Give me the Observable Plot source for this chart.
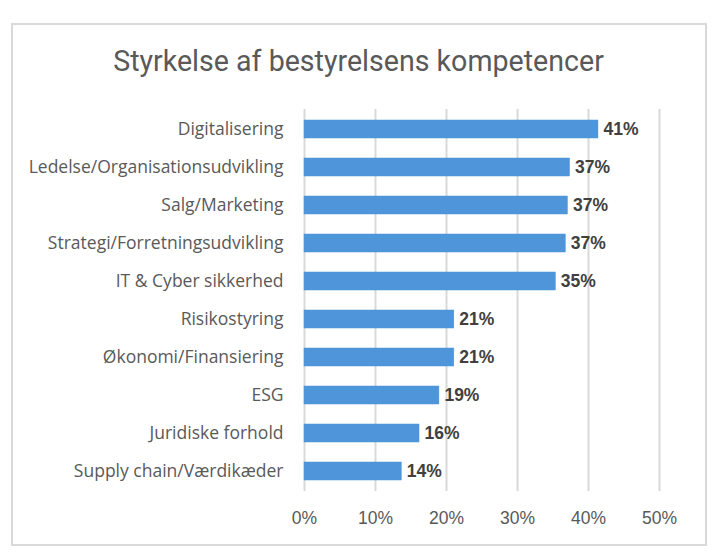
<!DOCTYPE html>
<html>
<head>
<meta charset="utf-8">
<script src="https://cdn.jsdelivr.net/npm/d3@7"></script>
<script src="https://cdn.jsdelivr.net/npm/@observablehq/plot@0.6"></script>
<style>
  html, body { margin: 0; padding: 0; background: #fff; }
  body { width: 722px; height: 560px; position: relative; overflow: hidden; font-family: Roboto, "Open Sans", sans-serif; }
  #frame { position: absolute; left: 11px; top: 23px; width: 692px; height: 519px; border: 2.5px solid #d9d9d9; pointer-events: none; }
  #title { position: absolute; left: 12px; width: 693px; top: 43px; text-align: center; font-size: 28.6px; color: #595959; font-weight: 400; font-family: Roboto, sans-serif; line-height: 36px; white-space: nowrap; }
  #chart { position: absolute; left: 0; top: 0; }
</style>
</head>
<body>
<div id="chart"></div>
<div id="title">Styrkelse af bestyrelsens kompetencer</div>
<div id="frame"></div>
<script>
const categories = [
  "Digitalisering",
  "Ledelse/Organisationsudvikling",
  "Salg/Marketing",
  "Strategi/Forretningsudvikling",
  "IT & Cyber sikkerhed",
  "Risikostyring",
  "Økonomi/Finansiering",
  "ESG",
  "Juridiske forhold",
  "Supply chain/Værdikæder"
];
const values = [41.4, 37.4, 37.1, 36.8, 35.4, 21.1, 21.1, 19.0, 16.2, 13.7];
const xTicks = [0, 10, 20, 30, 40, 50];

const data = categories.map((c, i) => ({category: c, value: values[i]}));

const chart = Plot.plot({
  width: 722,
  height: 560,
  marginLeft: 304,
  marginRight: 63,
  marginTop: 109,
  marginBottom: 69,
  style: {fontFamily: "Roboto, sans-serif", fontSize: "15px", background: "transparent"},
  x: {domain: [0, 50], ticks: xTicks, tickFormat: d => d + "%", label: null},
  y: {domain: categories, paddingInner: 0.52, paddingOuter: 0.26, label: null},
  marks: [
    Plot.gridX(xTicks, {stroke: "#d9d9d9", strokeWidth: 2, strokeOpacity: 1}),
    Plot.axisX({ticks: xTicks, tickFormat: d => d + "%", tickSize: 0, tickPadding: 20, fill: "#595959", fontSize: 17.5, fontFamily: "Liberation Sans, Arial, sans-serif"}),
    Plot.axisY({tickSize: 0, tickPadding: 21, fill: "#595959", fontSize: 17.5, fontFamily: "Open Sans, sans-serif"}),
    Plot.barX(data, {y: "category", x: "value", fill: "#4E95D9", stroke: "#4E95D9", strokeWidth: 0.5}),
    Plot.text(data, {y: "category", x: "value", text: d => Math.round(d.value) + "%", textAnchor: "start", dx: 5, fontWeight: "bold", fill: "#404040", fontSize: 17.5, fontFamily: "Liberation Sans, Arial, sans-serif"})
  ]
});
document.getElementById("chart").appendChild(chart);
</script>
</body>
</html>
